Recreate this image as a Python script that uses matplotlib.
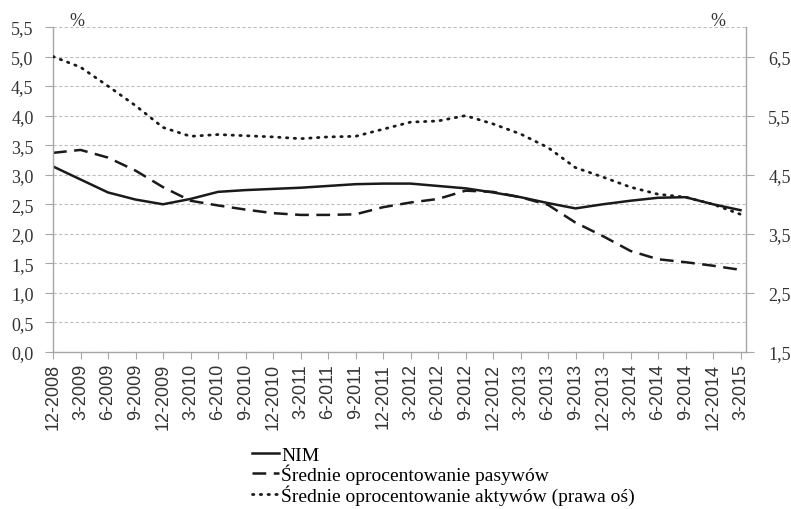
import matplotlib.pyplot as plt

quarters = ['12-2008', '3-2009', '6-2009', '9-2009', '12-2009', '3-2010', '6-2010',
            '9-2010', '12-2010', '3-2011', '6-2011', '9-2011', '12-2011', '3-2012',
            '6-2012', '9-2012', '12-2012', '3-2013', '6-2013', '9-2013', '12-2013',
            '3-2014', '6-2014', '9-2014', '12-2014', '3-2015']

nim = [3.14, 2.92, 2.70, 2.58, 2.50, 2.59, 2.71, 2.74, 2.76, 2.78, 2.81, 2.84, 2.85,
       2.85, 2.81, 2.77, 2.70, 2.62, 2.52, 2.43, 2.50, 2.56, 2.61, 2.62, 2.50, 2.40]

pasywa = [3.37, 3.42, 3.29, 3.07, 2.79, 2.56, 2.48, 2.41, 2.35, 2.32, 2.32, 2.33, 2.45,
          2.53, 2.59, 2.73, 2.71, 2.62, 2.49, 2.19, 1.96, 1.71, 1.57, 1.52, 1.46, 1.39]

# right axis
aktywa = [6.50, 6.32, 6.00, 5.67, 5.30, 5.15, 5.18, 5.16, 5.14, 5.11, 5.14, 5.15, 5.27,
          5.39, 5.41, 5.50, 5.36, 5.19, 4.96, 4.62, 4.46, 4.29, 4.17, 4.12, 4.00, 3.83]

left_ticks = [i * 0.5 for i in range(12)]
right_ticks = [1.5, 2.5, 3.5, 4.5, 5.5, 6.5]

serif = ['Liberation Serif', 'DejaVu Serif']
grey = '#a6a6a6'


def comma(v):
    return f'{v:.1f}'.replace('.', ',')


fig = plt.figure(figsize=(7.91, 5.10), dpi=100)
ax = fig.add_axes([53 / 791, 1 - 353 / 510, (746 - 53) / 791, (353 - 28) / 510])
ax2 = ax.twinx()

x = list(range(len(quarters)))
ax.plot(x, nim, color='#1a1a1a', lw=1.8, label='NIM')
ax.plot(x, pasywa, color='#1a1a1a', lw=1.8, dashes=(5.5, 3),
        label='Średnie oprocentowanie pasywów')
ax2.plot(x, aktywa, color='#1a1a1a', lw=2.0, linestyle=(0, (0.5, 2.3)),
         dash_capstyle='round', label='Średnie oprocentowanie aktywów (prawa oś)')

ax.set_xlim(0, 25.2)
ax.set_ylim(0, 5.5)
ax2.set_ylim(1.5, 7.0)

ax.set_yticks(left_ticks)
ax.set_yticklabels([comma(v) for v in left_ticks], family=serif, fontsize=13, color='#333333')
ax2.set_yticks(right_ticks)
ax2.set_yticklabels([comma(v) for v in right_ticks], family=serif, fontsize=13, color='#333333')

ax.set_xticks(x)
ax.set_xticklabels(quarters, rotation=90, family='Liberation Sans', fontsize=13,
                   color='#333333')

ax.grid(axis='y', color='#bfbfbf', linestyle=(0, (3, 2)), lw=0.8)
ax.set_axisbelow(True)

for a in (ax, ax2):
    a.spines['top'].set_visible(False)
    for s in ('left', 'right', 'bottom'):
        a.spines[s].set_color(grey)
        a.spines[s].set_linewidth(1.0)
ax.spines['right'].set_visible(False)
ax2.spines['left'].set_visible(False)
ax2.spines['bottom'].set_visible(False)

ax.tick_params(axis='x', length=5, color=grey, pad=3)
ax.tick_params(axis='y', length=6, color=grey, pad=8)
ax2.tick_params(axis='y', length=6, color=grey, pad=10)

fig.text(77 / 791, 1 - 21 / 510, '%', family=serif, fontsize=13, color='#333333',
         ha='center', va='center')
fig.text(718 / 791, 1 - 21 / 510, '%', family=serif, fontsize=13, color='#333333',
         ha='center', va='center')

h1, l1 = ax.get_legend_handles_labels()
h2, l2 = ax2.get_legend_handles_labels()
fig.legend(h1 + h2, l1 + l2, loc='upper left', bbox_to_anchor=(252 / 791, 1 - 447 / 510),
           frameon=False, prop={'family': serif, 'size': 14}, handlelength=1.4,
           handletextpad=0.1, labelspacing=0.0, borderaxespad=0, borderpad=0)

fig.savefig('out.png', dpi=100)
